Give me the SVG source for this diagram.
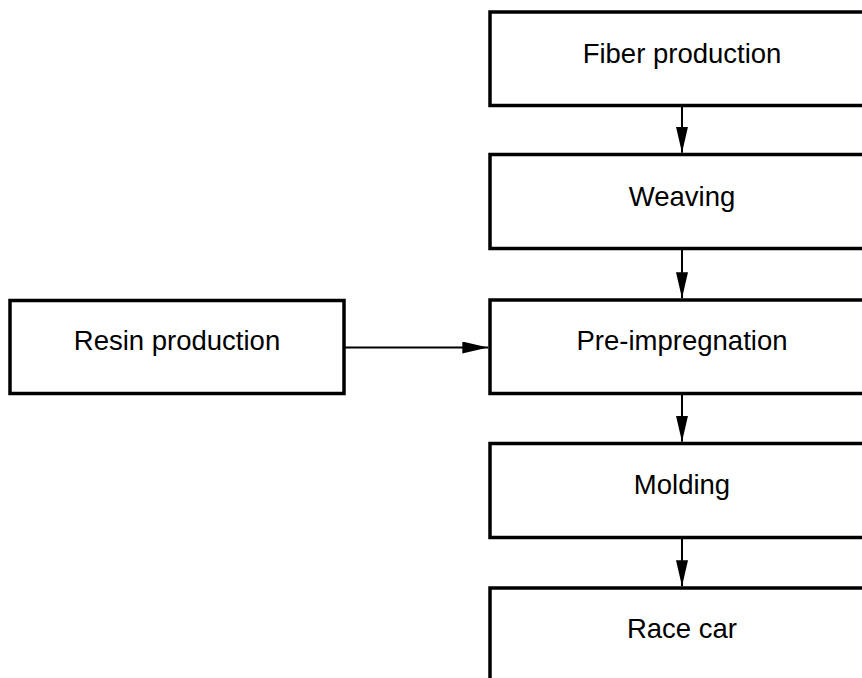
<svg xmlns="http://www.w3.org/2000/svg" width="862" height="678" viewBox="0 0 862 678">
<style>
.box{fill:#fff;stroke:#000;stroke-width:3.5}
.lbl{font-family:"Liberation Sans",Arial,sans-serif;font-size:27.5px;fill:#000;text-anchor:middle}
.conn{stroke:#000;stroke-width:2;fill:none}
</style>
<defs>
<marker id="ah" markerUnits="userSpaceOnUse" markerWidth="26" markerHeight="12" refX="26" refY="6" orient="auto">
<path d="M0,0 L26,6 L0,12 Z" fill="#000"/>
</marker>
</defs>
<rect width="862" height="678" fill="#fff"/>
<g id="fiber"><rect class="box" x="490" y="12" width="384" height="93.5"/><text class="lbl" x="682" y="62.5">Fiber production</text></g>
<g id="weaving"><rect class="box" x="490" y="154.5" width="384" height="94"/><text class="lbl" x="682" y="205.5">Weaving</text></g>
<g id="prepreg"><rect class="box" x="490" y="300" width="384" height="93.5"/><text class="lbl" x="682" y="350">Pre-impregnation</text></g>
<g id="resin"><rect class="box" x="10" y="300.5" width="334" height="93"/><text class="lbl" x="177" y="350">Resin production</text></g>
<g id="molding"><rect class="box" x="490" y="443.5" width="384" height="94"/><text class="lbl" x="682" y="494">Molding</text></g>
<g id="racecar"><rect class="box" x="490" y="588" width="384" height="94"/><text class="lbl" x="682" y="638">Race car</text></g>
<g id="connectors">
<line class="conn" x1="682" y1="105.5" x2="682" y2="152.8" marker-end="url(#ah)"/>
<line class="conn" x1="682" y1="248.5" x2="682" y2="298.3" marker-end="url(#ah)"/>
<line class="conn" x1="682" y1="393.5" x2="682" y2="441.8" marker-end="url(#ah)"/>
<line class="conn" x1="682" y1="537.5" x2="682" y2="586.3" marker-end="url(#ah)"/>
<line class="conn" x1="344" y1="347.5" x2="488.3" y2="347.5" marker-end="url(#ah)"/>
</g>
</svg>
